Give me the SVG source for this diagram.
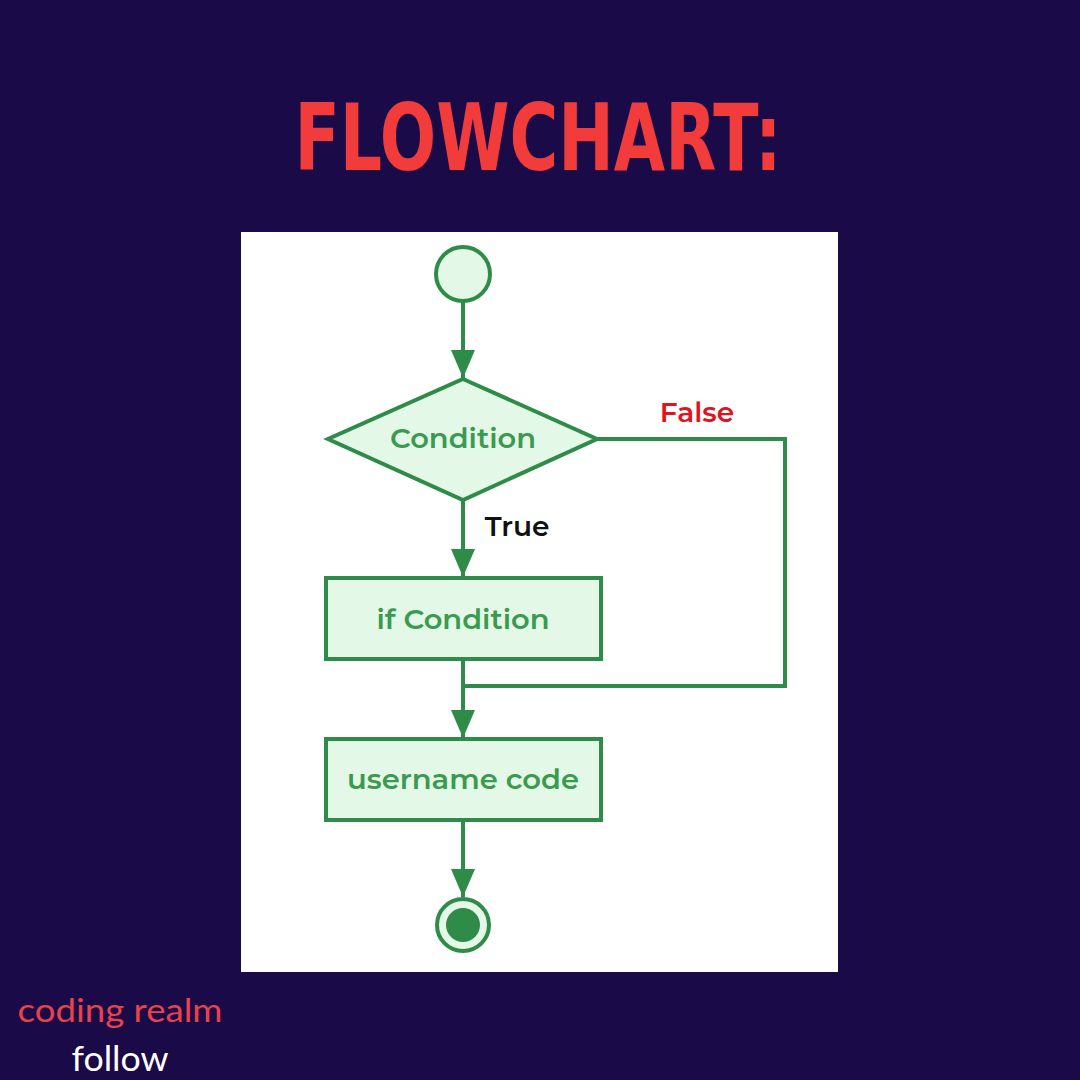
<svg xmlns="http://www.w3.org/2000/svg" width="1080" height="1080" viewBox="0 0 1080 1080">
<defs>
<style>
.shape{fill:#e3f8e6;stroke:#2f8c48;stroke-width:4}
.line{fill:none;stroke:#2f8c48;stroke-width:4}
.lbl{font-family:Montserrat,"Inter","Open Sans",sans-serif;font-weight:600;font-size:27.5px;fill:#3a9a50;text-anchor:middle}
.edge{font-family:Montserrat,"Inter","Open Sans",sans-serif;font-weight:600;font-size:28px;text-anchor:middle}
</style>
<marker id="arr" viewBox="0 0 28 24" refX="28" refY="12" markerWidth="28" markerHeight="24" markerUnits="userSpaceOnUse" orient="auto">
<path d="M0,0 L28,12 L0,24 Z" fill="#2f8c48"/>
</marker>
</defs>
<rect width="1080" height="1080" fill="#1b0a48"/>
<text x="538" y="170" font-family="'DejaVu Sans','Liberation Sans',sans-serif" font-weight="bold" font-size="92" fill="#f23b3b" text-anchor="middle" textLength="487" lengthAdjust="spacingAndGlyphs">FLOWCHART:</text>
<rect x="241" y="232" width="597" height="740" fill="#ffffff"/>
<g id="connectors">
<path class="line" d="M463,301 V378" marker-end="url(#arr)"/>
<path class="line" d="M463,500 V577" marker-end="url(#arr)"/>
<path class="line" d="M597,439 H785 V686 H463"/>
<path class="line" d="M463,659 V738" marker-end="url(#arr)"/>
<path class="line" d="M463,820 V897" marker-end="url(#arr)"/>
</g>
<g id="start"><circle class="shape" cx="463" cy="274" r="27"/></g>
<g id="condition">
<polygon class="shape" points="463,379 597,439 463,500 328,439"/>
<text class="lbl" x="463" y="448" textLength="146" lengthAdjust="spacingAndGlyphs">Condition</text>
</g>
<g id="labels">
<text class="edge" x="697" y="422" fill="#e0141e">False</text>
<text class="edge" x="517" y="536" fill="#111111">True</text>
</g>
<g id="if-condition">
<rect class="shape" x="326" y="578" width="275" height="81"/>
<text class="lbl" x="463" y="629" textLength="173" lengthAdjust="spacingAndGlyphs">if Condition</text>
</g>
<g id="username-code">
<rect class="shape" x="326" y="739" width="275" height="81"/>
<text class="lbl" x="463" y="789" textLength="232" lengthAdjust="spacingAndGlyphs">username code</text>
</g>
<g id="end">
<circle class="shape" cx="463" cy="925" r="26"/>
<circle cx="463" cy="925" r="17" fill="#2f8c48"/>
</g>
<text x="120" y="1022" font-family="Lato,'Open Sans',sans-serif" font-size="32" fill="#e6434b" text-anchor="middle" textLength="205" lengthAdjust="spacingAndGlyphs">coding realm</text>
<text x="120" y="1071" font-family="Lato,'Open Sans',sans-serif" font-size="35" fill="#ffffff" text-anchor="middle" textLength="97" lengthAdjust="spacingAndGlyphs">follow</text>
</svg>
